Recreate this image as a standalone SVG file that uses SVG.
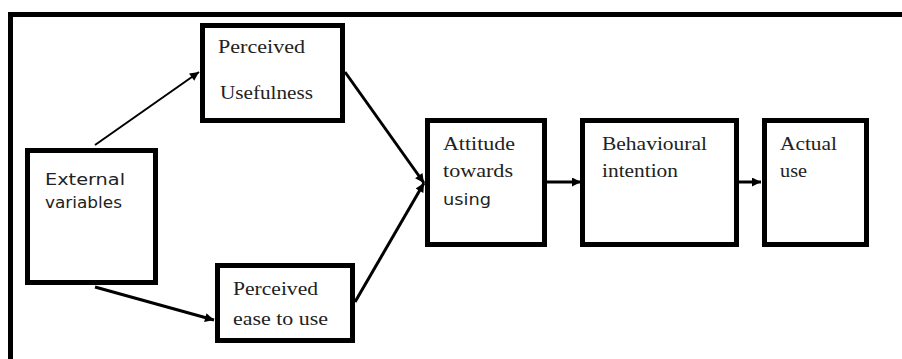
<svg xmlns="http://www.w3.org/2000/svg" width="902" height="359" viewBox="0 0 902 359">
<defs>
<style>
.box{fill:#fff;stroke:#000;stroke-width:5}
.serif{font-family:"Liberation Serif","Times New Roman",serif;font-size:18px;fill:#222}
.sans{font-family:"DejaVu Sans","Liberation Sans",sans-serif;font-size:16px;fill:#222}
.conn{stroke:#000;fill:none}
</style>
<marker id="ah" viewBox="0 0 10 10" refX="10" refY="5" markerWidth="10" markerHeight="9" markerUnits="userSpaceOnUse" orient="auto">
<path d="M0,0 L10,5 L0,10 Z" fill="#000"/>
</marker>
</defs>
<rect width="902" height="359" fill="#fff"/>
<path d="M10.5,359 V14.5 H902" fill="none" stroke="#000" stroke-width="5"/>
<g id="connectors">
<line class="conn" x1="95" y1="145" x2="199" y2="72" stroke-width="2" marker-end="url(#ah)"/>
<line class="conn" x1="345" y1="72" x2="424" y2="183" stroke-width="3" marker-end="url(#ah)"/>
<line class="conn" x1="95" y1="287" x2="214" y2="320" stroke-width="3" marker-end="url(#ah)"/>
<line class="conn" x1="355" y1="302" x2="424" y2="183" stroke-width="3" marker-end="url(#ah)"/>
<line class="conn" x1="547" y1="182" x2="581" y2="182" stroke-width="3" marker-end="url(#ah)"/>
<line class="conn" x1="738" y1="182" x2="761" y2="182" stroke-width="3" marker-end="url(#ah)"/>
</g>
<g id="external">
<rect class="box" x="27.5" y="150.5" width="128" height="132"/>
<text class="sans" x="45" y="185" textLength="80" lengthAdjust="spacingAndGlyphs">External</text>
<text class="sans" x="45" y="208" textLength="77" lengthAdjust="spacingAndGlyphs">variables</text>
</g>
<g id="usefulness">
<rect class="box" x="202.5" y="25.5" width="140" height="95"/>
<text class="serif" x="218" y="53" textLength="87" lengthAdjust="spacingAndGlyphs">Perceived</text>
<text class="serif" x="220" y="99" textLength="93" lengthAdjust="spacingAndGlyphs">Usefulness</text>
</g>
<g id="ease">
<rect class="box" x="217.5" y="265.5" width="135" height="75"/>
<text class="serif" x="233" y="295" textLength="85" lengthAdjust="spacingAndGlyphs">Perceived</text>
<text class="serif" x="233" y="325" textLength="95" lengthAdjust="spacingAndGlyphs">ease to use</text>
</g>
<g id="attitude">
<rect class="box" x="427.5" y="120.5" width="117" height="124"/>
<text class="serif" x="443" y="150" textLength="72" lengthAdjust="spacingAndGlyphs">Attitude</text>
<text class="serif" x="443" y="177" textLength="70" lengthAdjust="spacingAndGlyphs">towards</text>
<text class="sans" x="443" y="205" textLength="48" lengthAdjust="spacingAndGlyphs">using</text>
</g>
<g id="intention">
<rect class="box" x="582.5" y="120.5" width="154" height="124"/>
<text class="serif" x="602" y="150" textLength="105" lengthAdjust="spacingAndGlyphs">Behavioural</text>
<text class="serif" x="602" y="177" textLength="76" lengthAdjust="spacingAndGlyphs">intention</text>
</g>
<g id="actual">
<rect class="box" x="764.5" y="120.5" width="102" height="124"/>
<text class="serif" x="780" y="150" textLength="57" lengthAdjust="spacingAndGlyphs">Actual</text>
<text class="serif" x="780" y="177" textLength="27" lengthAdjust="spacingAndGlyphs">use</text>
</g>
</svg>
